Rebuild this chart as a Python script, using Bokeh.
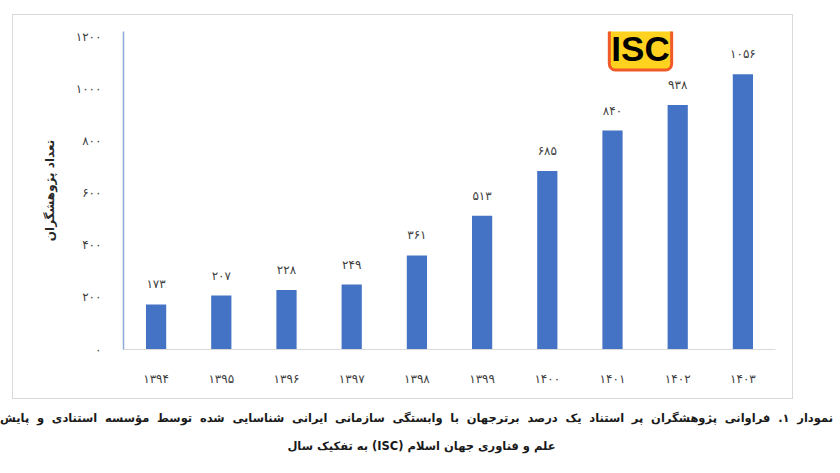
from bokeh.plotting import figure
from bokeh.models import ColumnDataSource, LabelSet, Label, FixedTicker, Range1d, FactorRange, Div
from bokeh.layouts import column
from bokeh.core.properties import value
from bokeh.embed import file_html
from bokeh.resources import INLINE

# ---- data ----
years = ["1394", "1395", "1396", "1397", "1398", "1399", "1400", "1401", "1402", "1403"]
counts = [173, 207, 228, 249, 361, 513, 685, 840, 938, 1056]
y_ticks = [0, 200, 400, 600, 800, 1000, 1200]
y_title = "تعداد پژوهشگران"
caption_1 = "نمودار ۱. فراوانی پژوهشگران پر استناد یک درصد برترجهان با وابستگی سازمانی ایرانی شناسایی شده توسط مؤسسه  استنادی و پایش"
caption_2 = "علم و فناوری جهان اسلام (ISC) به تفکیک سال"
logo_text = "ISC"

FA = str.maketrans("0123456789", "۰۱۲۳۴۵۶۷۸۹")


def fa(x):
    return str(x).translate(FA)


years_fa = [fa(y) for y in years]
src = ColumnDataSource(dict(year=years_fa, value=counts, label=[fa(c) for c in counts]))

FONT = "DejaVu Sans"
TXT = "#404040"

p = figure(x_range=FactorRange(factors=years_fa, range_padding=0), y_range=Range1d(0, 1220),
           width=781, height=385, output_backend="svg", toolbar_location=None,
           min_border_left=110, min_border_right=19, min_border_top=16, min_border_bottom=51)
p.margin = (14, 0, 0, 12)
p.styles = {"border": "1px solid #d9d9d9"}
p.outline_line_color = None
p.background_fill_color = "white"
p.border_fill_color = "white"

p.vbar(x="year", top="value", width=0.31, source=src, fill_color="#4472C4", line_color=None)

labels = LabelSet(x="year", y="value", text="label", source=src, text_align="center",
                  text_baseline="middle", y_offset=20, text_font=value(FONT),
                  text_font_size="12px", text_color=TXT)
p.add_layout(labels)

p.xgrid.grid_line_color = None
p.ygrid.grid_line_color = None

p.yaxis.ticker = FixedTicker(ticks=y_ticks)
p.yaxis.major_label_overrides = {t: fa(t) for t in y_ticks}
p.yaxis.axis_line_color = "#8eaadb"
p.yaxis.axis_line_width = 1.5
p.yaxis.major_tick_line_color = None
p.yaxis.minor_tick_line_color = None
p.yaxis.major_label_standoff = 16
p.yaxis.major_label_text_font = FONT
p.yaxis.major_label_text_font_size = "12px"
p.yaxis.major_label_text_color = TXT
p.yaxis.axis_label = y_title
p.yaxis.axis_label_text_font = FONT
p.yaxis.axis_label_text_font_size = "12px"
p.yaxis.axis_label_text_font_style = "bold"
p.yaxis.axis_label_text_color = "#262626"
p.yaxis.axis_label_standoff = 16

p.xaxis.axis_line_color = "#d9d9d9"
p.xaxis.major_tick_line_color = None
p.xaxis.minor_tick_line_color = None
p.xaxis.major_label_standoff = 16
p.xaxis.major_label_text_font = FONT
p.xaxis.major_label_text_font_size = "12px"
p.xaxis.major_label_text_color = TXT

# logo position is relative to the plot frame (screen units, y up)
logo = Label(x=517, y=301, x_units="screen", y_units="screen", text=logo_text,
             text_align="center", text_baseline="middle", text_font="Liberation Sans",
             text_font_size="35px", text_font_style="bold", text_color="black",
             background_fill_color="#ffd21f", border_line_color="#f05a28",
             border_line_width=3, padding=2, border_radius=6)
p.add_layout(logo)

cap_html = (
    f'<div dir="rtl" style="width:833px;font-family:\'{FONT}\';font-weight:bold;font-size:11.5px;color:#1a1a1a;">'
    f'<div style="white-space:nowrap;text-align:justify;text-align-last:justify;line-height:28px;padding-top:5px;">{caption_1}</div>'
    f'<div style="white-space:nowrap;text-align:center;line-height:28px;padding-left:10px;">{caption_2}</div>'
    '</div>'
)
cap = Div(text=cap_html, width=843, height=61, margin=0)

layout = column(p, cap)
open("out.html", "w").write(file_html(layout, INLINE))
